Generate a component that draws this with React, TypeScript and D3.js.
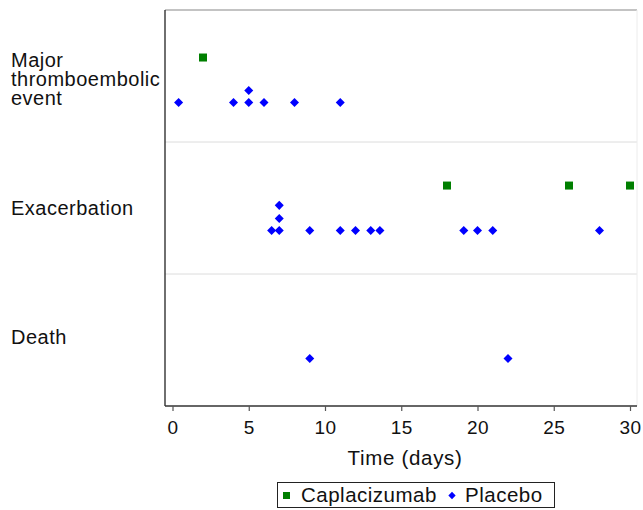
import React, { useEffect, useRef } from 'react';
import * as d3 from 'd3';

// event rows (y value of each row band) and their labels
const rowValues = [3, 2, 1];
const rowLabels = [['Major', 'thromboembolic', 'event'], ['Exacerbation'], ['Death']];
const xTicks = [0, 5, 10, 15, 20, 25, 30];

// Caplacizumab events: day and y position (row + small offset)
const capDays = [2, 18, 26, 30];
const capY = [3.14, 2.17, 2.17, 2.17];

// Placebo events
const placeboDays = [0.4, 4, 5, 5, 6, 8, 11, 6.5, 7, 7, 7, 9, 11, 12, 13, 13.6, 19.1, 20, 21, 28, 9, 22];
const placeboY = [2.8, 2.8, 2.8, 2.89, 2.8, 2.8, 2.8, 1.83, 1.83, 1.92, 2.02, 1.83, 1.83, 1.83, 1.83, 1.83, 1.83, 1.83, 1.83, 1.83, 0.86, 0.86];

const seriesNames = ['Caplacizumab', 'Placebo'];

const App = () => {
  const ref = useRef<SVGSVGElement>(null);

  useEffect(() => {
    const svg = d3.select(ref.current);
    svg.selectAll('*').remove();

    const font = 'Liberation Sans, Arial, Helvetica, sans-serif';
    const left = 165, right = 637, top = 10, bottom = 406;

    const x = d3.scaleLinear().domain([0, 30]).range([172.5, 630]);
    const y = d3.scaleLinear().domain([0.5, 3.5]).range([bottom, top]);

    // row separators
    svg.selectAll('.sep')
      .data([1.5, 2.5])
      .enter()
      .append('line')
      .attr('x1', left).attr('x2', right)
      .attr('y1', d => y(d)).attr('y2', d => y(d))
      .attr('stroke', '#dcdcdc');

    // frame
    svg.append('line').attr('x1', left).attr('x2', right).attr('y1', top).attr('y2', top)
      .attr('stroke', '#888').attr('stroke-width', 1.2);
    svg.append('line').attr('x1', right).attr('x2', right).attr('y1', top).attr('y2', bottom)
      .attr('stroke', '#ececec');
    svg.append('line').attr('x1', left).attr('x2', left).attr('y1', top).attr('y2', bottom)
      .attr('stroke', '#222').attr('stroke-width', 1.3);
    svg.append('line').attr('x1', left).attr('x2', right).attr('y1', bottom).attr('y2', bottom)
      .attr('stroke', '#333').attr('stroke-width', 1.3);

    // x axis
    const ax = svg.append('g')
      .attr('transform', `translate(0,${bottom})`)
      .call(d3.axisBottom(x).tickValues(xTicks).tickSize(5).tickPadding(10).tickSizeOuter(0));
    ax.select('.domain').remove();
    ax.selectAll('line').attr('stroke', '#555').attr('stroke-width', 1.2);
    ax.selectAll('text').attr('fill', '#111').style('font-family', font).style('font-size', '19px')
      .style('letter-spacing', '0.4px');

    svg.append('text')
      .attr('x', 405).attr('y', 465)
      .attr('text-anchor', 'middle')
      .style('font-family', font).style('font-size', '20.5px').style('letter-spacing', '0.7px')
      .attr('fill', '#111')
      .text('Time (days)');

    // row labels
    rowLabels.forEach((lines, i) => {
      const cy = y(rowValues[i]);
      const t = svg.append('text')
        .attr('x', 11)
        .style('font-family', font).style('font-size', '20px').style('letter-spacing', '0.5px')
        .attr('fill', '#111');
      lines.forEach((s, j) => {
        t.append('tspan')
          .attr('x', 11)
          .attr('y', cy + 7 + (j - (lines.length - 1) / 2) * 19 + (lines.length > 1 ? 3 : 0) + (i === 2 ? -3 : 0))
          .text(s);
      });
    });

    const diamond = d3.symbol().type(d3.symbolDiamond2).size(52);

    // placebo markers
    svg.selectAll('.pl')
      .data(placeboDays.map((d, i) => ({ day: d, v: placeboY[i] })))
      .enter()
      .append('path')
      .attr('d', diamond)
      .attr('transform', d => `translate(${x(d.day)},${y(d.v)})`)
      .attr('fill', '#0000ff');

    // caplacizumab markers
    svg.selectAll('.cap')
      .data(capDays.map((d, i) => ({ day: d, v: capY[i] })))
      .enter()
      .append('rect')
      .attr('x', d => x(d.day) - 4)
      .attr('y', d => y(d.v) - 4)
      .attr('width', 8).attr('height', 8)
      .attr('fill', '#007f00');

    // legend
    const lg = svg.append('g');
    lg.append('rect')
      .attr('x', 277.5).attr('y', 482.5).attr('width', 277).attr('height', 25)
      .attr('fill', 'white').attr('stroke', '#222');
    lg.append('rect')
      .attr('x', 283).attr('y', 492).attr('width', 7).attr('height', 7)
      .attr('fill', '#007f00');
    lg.append('path')
      .attr('d', d3.symbol().type(d3.symbolDiamond2).size(34))
      .attr('transform', 'translate(452,495.5)')
      .attr('fill', '#0000ff');
    lg.selectAll('.lt')
      .data(seriesNames)
      .enter()
      .append('text')
      .attr('x', (d, i) => (i === 0 ? 301 : 465))
      .attr('y', 502)
      .style('font-family', font).style('font-size', '20.5px').style('letter-spacing', '0.5px')
      .attr('fill', '#111')
      .text(d => d);
  }, []);

  return (
    <div style={{ position: 'absolute', left: 0, top: 0 }}>
      <svg ref={ref} width={643} height={510} style={{ display: 'block', background: 'white' }}></svg>
    </div>
  );
};

export default App;
